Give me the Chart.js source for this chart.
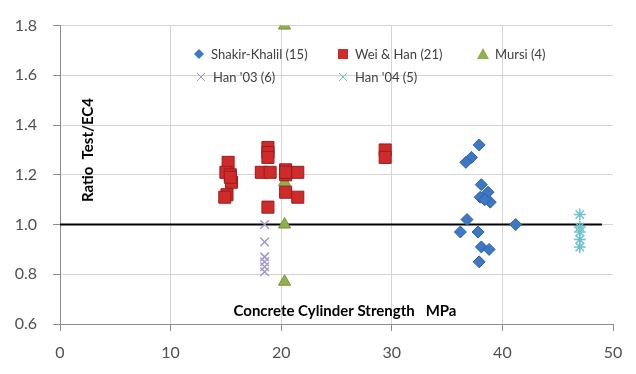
<!DOCTYPE html>
<html>
<head>
<meta charset="utf-8">
<script src="https://cdn.jsdelivr.net/npm/chart.js@4/dist/chart.umd.min.js"></script>
<style>
  html, body { margin: 0; padding: 0; background: #fff; }
  #wrap { width: 636px; height: 374px; }
</style>
</head>
<body>
<div id="wrap"><canvas id="ratio-chart"></canvas></div>
<script>
// values: [strength MPa, ratio]
const shakirKhalil = [
    [37.9, 1.32], [37.2, 1.27], [36.7, 1.25], [38.1, 1.16], [38.7, 1.13],
    [38.0, 1.11], [38.9, 1.09], [38.4, 1.10], [36.8, 1.02], [36.2, 0.97],
    [37.8, 0.97], [38.1, 0.91], [38.8, 0.90], [37.9, 0.85], [41.2, 1.00]
];
const weiHan = [
    [15.2, 1.25], [15.0, 1.21], [15.4, 1.20], [15.5, 1.17], [15.1, 1.12],
    [14.9, 1.11], [15.4, 1.19],
    [18.8, 1.31], [18.8, 1.29], [18.8, 1.27], [18.2, 1.21], [19.0, 1.21], [18.8, 1.07],
    [20.4, 1.22], [20.4, 1.20], [20.4, 1.13], [21.5, 1.21], [21.5, 1.11],
    [29.4, 1.30], [29.4, 1.27], [20.4, 1.21]
];
const mursi = [[20.3, 1.80], [20.3, 1.17], [20.3, 1.00], [20.3, 0.77]];
const han03 = [[18.5, 1.00], [18.5, 0.93], [18.5, 0.87], [18.5, 0.85], [18.5, 0.83], [18.5, 0.81]];
const han04 = [[47.0, 1.04], [47.0, 0.99], [47.0, 0.97], [47.0, 0.94], [47.0, 0.91]];
const unityLine = [[0, 1.0], [49, 1.0]];

const seriesLabels = ["Shakir-Khalil (15)", "Wei & Han (21)", "Mursi (4)", "Han '03 (6)", "Han '04 (5)"];
const xTicks = [0, 10, 20, 30, 40, 50];
const yTicks = [0.6, 0.8, 1.0, 1.2, 1.4, 1.6, 1.8];

function toPoints(arr) {
    return arr.map(p => ({ x: p[0], y: p[1] }));
}

const FONT = "Lato, 'Open Sans', sans-serif";

// legend and in-plot axis titles, drawn like the spreadsheet original
const overlayPlugin = {
    id: 'overlay',
    afterDraw(chart) {
        const ctx = chart.ctx;
        const area = chart.chartArea;
        ctx.save();

        // legend
        const items = [
            { x: 199, y: 54, i: 0 }, { x: 343, y: 54, i: 1 }, { x: 483, y: 54, i: 2 },
            { x: 201, y: 77, i: 3 }, { x: 343, y: 77, i: 4 }
        ];
        ctx.font = "13px " + FONT;
        ctx.textBaseline = 'middle';
        ctx.textAlign = 'left';
        items.forEach(it => {
            const ds = chart.data.datasets[it.i];
            ctx.fillStyle = ds.backgroundColor;
            ctx.strokeStyle = ds.borderColor;
            ctx.lineWidth = 1;
            ctx.beginPath();
            if (ds.pointStyle === 'rectRot') {
                ctx.moveTo(it.x, it.y - 5); ctx.lineTo(it.x + 5, it.y);
                ctx.lineTo(it.x, it.y + 5); ctx.lineTo(it.x - 5, it.y); ctx.closePath();
                ctx.fill();
            } else if (ds.pointStyle === 'rect') {
                ctx.rect(it.x - 5, it.y - 5, 10, 10);
                ctx.fill();
            } else if (ds.pointStyle === 'triangle') {
                ctx.moveTo(it.x, it.y - 6); ctx.lineTo(it.x + 6, it.y + 5);
                ctx.lineTo(it.x - 6, it.y + 5); ctx.closePath();
                ctx.fill();
            } else {
                ctx.moveTo(it.x - 4, it.y - 4); ctx.lineTo(it.x + 4, it.y + 4);
                ctx.moveTo(it.x + 4, it.y - 4); ctx.lineTo(it.x - 4, it.y + 4);
                ctx.stroke();
            }
            ctx.fillStyle = '#404040';
            ctx.fillText(seriesLabels[it.i], it.x + 12, it.y + 1);
        });

        // axis titles
        ctx.fillStyle = '#000';
        ctx.font = "bold 15px " + FONT;
        ctx.textAlign = 'center';
        ctx.fillText('Concrete Cylinder Strength   MPa', 345, 311);
        ctx.translate(88, 150);
        ctx.rotate(-Math.PI / 2);
        ctx.fillText('Ratio  Test/EC4', 0, 0);
        ctx.restore();
    }
};

new Chart(document.getElementById('ratio-chart'), {
    type: 'scatter',
    data: {
        datasets: [
            {
                label: seriesLabels[0],
                data: toPoints(shakirKhalil),
                pointStyle: 'rectRot',
                pointRadius: 6,
                backgroundColor: '#3c78c3',
                borderColor: '#2f60a0',
                borderWidth: 1
            },
            {
                label: seriesLabels[1],
                data: toPoints(weiHan),
                pointStyle: 'rect',
                pointRadius: 8.5,
                backgroundColor: '#cf2b2b',
                borderColor: '#9c1c1c',
                borderWidth: 1
            },
            {
                label: seriesLabels[2],
                data: toPoints(mursi),
                pointStyle: 'triangle',
                pointRadius: 7,
                backgroundColor: '#8fb14b',
                borderColor: '#76963a',
                borderWidth: 1
            },
            {
                label: seriesLabels[3],
                data: toPoints(han03),
                pointStyle: 'crossRot',
                pointRadius: 6,
                backgroundColor: '#a398c8',
                borderColor: '#a398c8',
                borderWidth: 1.5
            },
            {
                label: seriesLabels[4],
                data: toPoints(han04),
                pointStyle: 'star',
                pointRadius: 6,
                backgroundColor: '#6cc3cf',
                borderColor: '#6cc3cf',
                borderWidth: 1.5
            },
            {
                label: 'unity',
                data: toPoints(unityLine),
                showLine: true,
                pointRadius: 0,
                borderColor: '#000',
                borderWidth: 2
            }
        ]
    },
    options: {
        responsive: true,
        maintainAspectRatio: false,
        animation: false,
        layout: { padding: { top: 14, right: 23, left: 0, bottom: 0 } },
        plugins: {
            legend: { display: false },
            tooltip: { enabled: false }
        },
        scales: {
            x: {
                type: 'linear',
                min: xTicks[0],
                max: xTicks[xTicks.length - 1],
                afterBuildTicks: axis => { axis.ticks = xTicks.map(v => ({ value: v })); },
                afterFit: axis => { axis.height = 50; },
                border: { color: '#8c8c8c', width: 1 },
                grid: {
                    color: c => (c.tick && c.tick.value === 50) ? 'rgba(0,0,0,0)' : '#d4d4d4',
                    tickColor: '#8c8c8c',
                    tickLength: 7
                },
                ticks: {
                    color: '#505050',
                    padding: 12,
                    font: { family: FONT, size: 16 }
                }
            },
            y: {
                min: yTicks[0],
                max: yTicks[yTicks.length - 1],
                afterBuildTicks: axis => { axis.ticks = yTicks.map(v => ({ value: v })); },
                afterFit: axis => { axis.width = 60; },
                border: { color: '#8c8c8c', width: 1 },
                grid: {
                    color: '#d4d4d4',
                    tickColor: '#8c8c8c',
                    tickLength: 7
                },
                ticks: {
                    color: '#505050',
                    padding: 16,
                    callback: v => v.toFixed(1),
                    font: { family: FONT, size: 16 }
                }
            }
        }
    },
    plugins: [overlayPlugin]
});
</script>
</body>
</html>
